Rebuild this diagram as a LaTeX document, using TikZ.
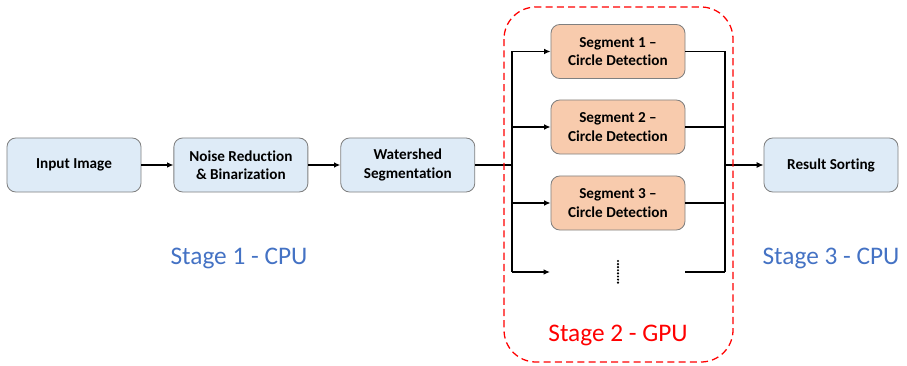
\documentclass[tikz,border=0pt]{standalone}
\usepackage{fontspec}
\setmainfont{Carlito}[Ligatures=NoCommon]
\usepackage{xcolor}
\usetikzlibrary{positioning}
\usetikzlibrary{arrows, arrows.meta}

\definecolor{cpufill}{RGB}{222,235,247}
\definecolor{gpufill}{RGB}{248,203,173}
\definecolor{boxline}{RGB}{128,128,128}
\definecolor{stageblue}{RGB}{68,114,196}

\tikzset{
  cpubox/.style={draw=boxline, fill=cpufill, rounded corners=0.22cm, line width=0.6pt,
    minimum width=3.35cm, minimum height=1.35cm, align=center,
    font=\fontsize{10.8}{13}\selectfont\bfseries},
  gpubox/.style={cpubox, fill=gpufill},
  flow/.style={-{Latex[length=4.5pt,width=4pt]}, line width=0.9pt},
  link/.style={line width=0.9pt},
  trunk/.style={line width=1.6pt},
  stagelabel/.style={font=\fontsize{18}{21}\selectfont}
}

\begin{document}
\begin{tikzpicture}[x=0.025cm, y=-0.025cm]
  \useasboundingbox (0,0) rectangle (907,366);

  % stage 1
  \node[cpubox] (input) at (74,165) {Input Image};
  \node[cpubox, right=0.8cm of input] (noise) {Noise Reduction\\\& Binarization};
  \node[cpubox, right=0.8cm of noise] (water) {Watershed\\Segmentation};

  % stage 2
  \node[gpubox] (seg1) at (618,51.5) {Segment 1 --\\Circle Detection};
  \node[gpubox] (seg2) at (618,127) {Segment 2 --\\Circle Detection};
  \node[gpubox] (seg3) at (618,203) {Segment 3 --\\Circle Detection};

  % stage 3
  \node[cpubox] (result) at (831,165) {Result Sorting};

  \draw[flow] (input) -- (noise);
  \draw[flow] (noise) -- (water);

  \coordinate (SPLIT) at (512,165);
  \coordinate (JOIN) at (725,165);
  \coordinate (MOREIN) at (550,272);
  \coordinate (MOREOUT) at (685,272);

  \draw[trunk] (water.east) -- (SPLIT);
  \draw[trunk] (SPLIT |- seg1) -- (SPLIT |- MOREIN);
  \draw[flow] (SPLIT |- seg1) -- (seg1.west);
  \draw[flow] (SPLIT |- seg2) -- (seg2.west);
  \draw[flow] (SPLIT |- seg3) -- (seg3.west);
  \draw[flow] (SPLIT |- MOREIN) -- (MOREIN);

  \draw[link] (seg1.east) -- (JOIN |- seg1);
  \draw[link] (seg2.east) -- (JOIN |- seg2);
  \draw[link] (seg3.east) -- (JOIN |- seg3);
  \draw[link] (MOREOUT) -- (JOIN |- MOREOUT);
  \draw[trunk] (JOIN |- seg1) -- (JOIN |- MOREOUT);
  \draw[trunk, -{Latex[length=5pt,width=4.5pt]}] (JOIN) -- (result.west);

  \draw[line width=1.7pt, line cap=round, dash pattern=on 0pt off 2.2pt] (618,261) -- (618,284);

  \draw[red, line width=0.9pt, dash pattern=on 5pt off 3pt, rounded corners=0.8cm]
    (504,7) rectangle (733,362);

  \node[stagelabel, text=stageblue] (stage1) at (239,258) {Stage 1 - CPU};
  \node[stagelabel, text=red] (stage2) at (618,335) {Stage 2 - GPU};
  \node[stagelabel, text=stageblue] (stage3) at (831,258) {Stage 3 - CPU};
\end{tikzpicture}
\end{document}
